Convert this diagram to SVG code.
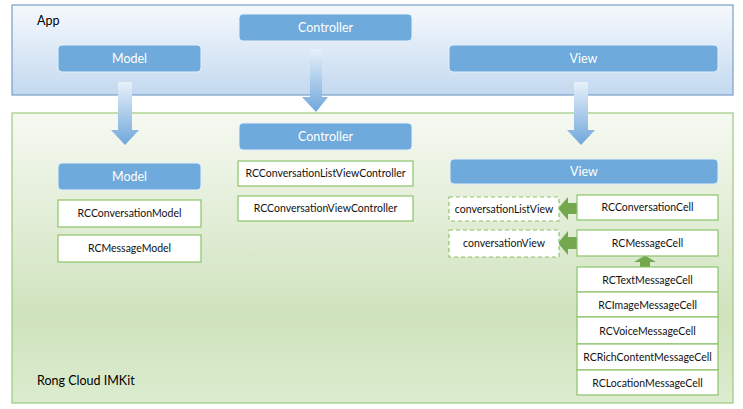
<svg xmlns="http://www.w3.org/2000/svg" width="743" height="409" viewBox="0 0 743 409">
<style>
.hdr{fill:#6eaadb;stroke:#e6f0fa;stroke-width:1}
.hdrt{font-family:Lato,"Liberation Sans",sans-serif;font-size:12.5px;fill:#ffffff;text-anchor:middle}
.cell{fill:#ffffff;stroke:#8cc46a;stroke-width:1.2}
.dash{fill:#ffffff;stroke:#8cc46a;stroke-width:1.2;stroke-dasharray:4 3}
.ct{font-family:Lato,"Liberation Sans",sans-serif;font-size:10.5px;fill:#111111;text-anchor:middle}
.ttl{font-family:Lato,"Liberation Sans",sans-serif;font-size:12.5px;fill:#000000}
.garr{fill:#73a84f}
</style>
<defs>
<linearGradient id="appg" x1="0" y1="0" x2="0" y2="1">
<stop offset="0" stop-color="#f6f9fd"/>
<stop offset="1" stop-color="#c3d9ef"/>
</linearGradient>
<linearGradient id="kitg" x1="0" y1="0" x2="0" y2="1">
<stop offset="0" stop-color="#f6f9f2"/>
<stop offset="0.7" stop-color="#cfe3bd"/>
<stop offset="1" stop-color="#dceccf"/>
</linearGradient>
<linearGradient id="barr" x1="0" y1="0" x2="0" y2="1">
<stop offset="0" stop-color="#e8f1fa"/>
<stop offset="1" stop-color="#6fa7da"/>
</linearGradient>
</defs>

<g id="app">
<rect x="12" y="5" width="721" height="90" fill="url(#appg)" stroke="#7b9dc8" stroke-width="1.2"/>
<text class="ttl" x="37" y="25">App</text>
</g>
<g id="kit">
<rect x="12" y="113" width="721" height="290" fill="url(#kitg)" stroke="#9cc97c" stroke-width="1.2"/>
<text class="ttl" x="37" y="385">Rong Cloud IMKit</text>
</g>

<g id="connectors">
<path d="M118,82 H132 V130 H139 L125,145 L111,130 H118 Z" fill="url(#barr)"/>
<path d="M310,49 H322 V97 H328 L316,112 L302,97 H310 Z" fill="url(#barr)"/>
<path d="M574,82 H588 V130 H595 L581,145 L567,130 H574 Z" fill="url(#barr)"/>
<path class="garr" d="M577,203 H568 V197 L558,208.5 L568,220 V214 H577 Z"/>
<path class="garr" d="M577,237 H568 V231 L558,243 L568,255 V249 H577 Z"/>
<path class="garr" d="M640,267 V262 H634 L645,255.5 L656,262 H650 V267 Z"/>
</g>

<g id="app-model"><rect class="hdr" x="58" y="45" width="143" height="27" rx="4"/><text class="hdrt" x="129.5" y="62.5">Model</text></g>
<g id="app-controller"><rect class="hdr" x="239" y="14" width="173" height="27" rx="4"/><text class="hdrt" x="325.5" y="31.5">Controller</text></g>
<g id="app-view"><rect class="hdr" x="449" y="45" width="269" height="27" rx="4"/><text class="hdrt" x="583.5" y="62.5">View</text></g>

<g id="kit-model"><rect class="hdr" x="58" y="163" width="143" height="27" rx="4"/><text class="hdrt" x="129.5" y="180.5">Model</text></g>
<g id="rcconversationmodel"><rect class="cell" x="58" y="200" width="143" height="27"/><text class="ct" x="129.5" y="217">RCConversationModel</text></g>
<g id="rcmessagemodel"><rect class="cell" x="58" y="235" width="143" height="27"/><text class="ct" x="129.5" y="252">RCMessageModel</text></g>

<g id="kit-controller"><rect class="hdr" x="239" y="123" width="173" height="27" rx="4"/><text class="hdrt" x="325.5" y="140.5">Controller</text></g>
<g id="rcconversationlistviewcontroller"><rect class="cell" x="238" y="161" width="175" height="25"/><text class="ct" x="325.5" y="177">RCConversationListViewController</text></g>
<g id="rcconversationviewcontroller"><rect class="cell" x="238" y="196" width="175" height="25"/><text class="ct" x="325.5" y="212">RCConversationViewController</text></g>

<g id="kit-view"><rect class="hdr" x="450" y="159" width="268" height="25" rx="4"/><text class="hdrt" x="584" y="175.5">View</text></g>
<g id="conversationlistview"><rect class="dash" x="449" y="197" width="110" height="24"/><text class="ct" x="504" y="213">conversationListView</text></g>
<g id="conversationview"><rect class="dash" x="449" y="230" width="110" height="27"/><text class="ct" x="504" y="247">conversationView</text></g>
<g id="rcconversationcell"><rect class="cell" x="577" y="195" width="141" height="25"/><text class="ct" x="647.5" y="211">RCConversationCell</text></g>
<g id="rcmessagecell"><rect class="cell" x="577" y="230" width="141" height="26"/><text class="ct" x="647.5" y="247">RCMessageCell</text></g>
<g id="rctextmessagecell"><rect class="cell" x="577" y="267" width="141" height="25"/><text class="ct" x="647.5" y="283.5">RCTextMessageCell</text></g>
<g id="rcimagemessagecell"><rect class="cell" x="577" y="292" width="141" height="25"/><text class="ct" x="647.5" y="308.5">RCImageMessageCell</text></g>
<g id="rcvoicemessagecell"><rect class="cell" x="577" y="317" width="141" height="27"/><text class="ct" x="647.5" y="334.5">RCVoiceMessageCell</text></g>
<g id="rcrichcontentmessagecell"><rect class="cell" x="577" y="344" width="141" height="26"/><text class="ct" x="647.5" y="361">RCRichContentMessageCell</text></g>
<g id="rclocationmessagecell"><rect class="cell" x="577" y="370" width="141" height="25"/><text class="ct" x="647.5" y="386.5">RCLocationMessageCell</text></g>
</svg>
